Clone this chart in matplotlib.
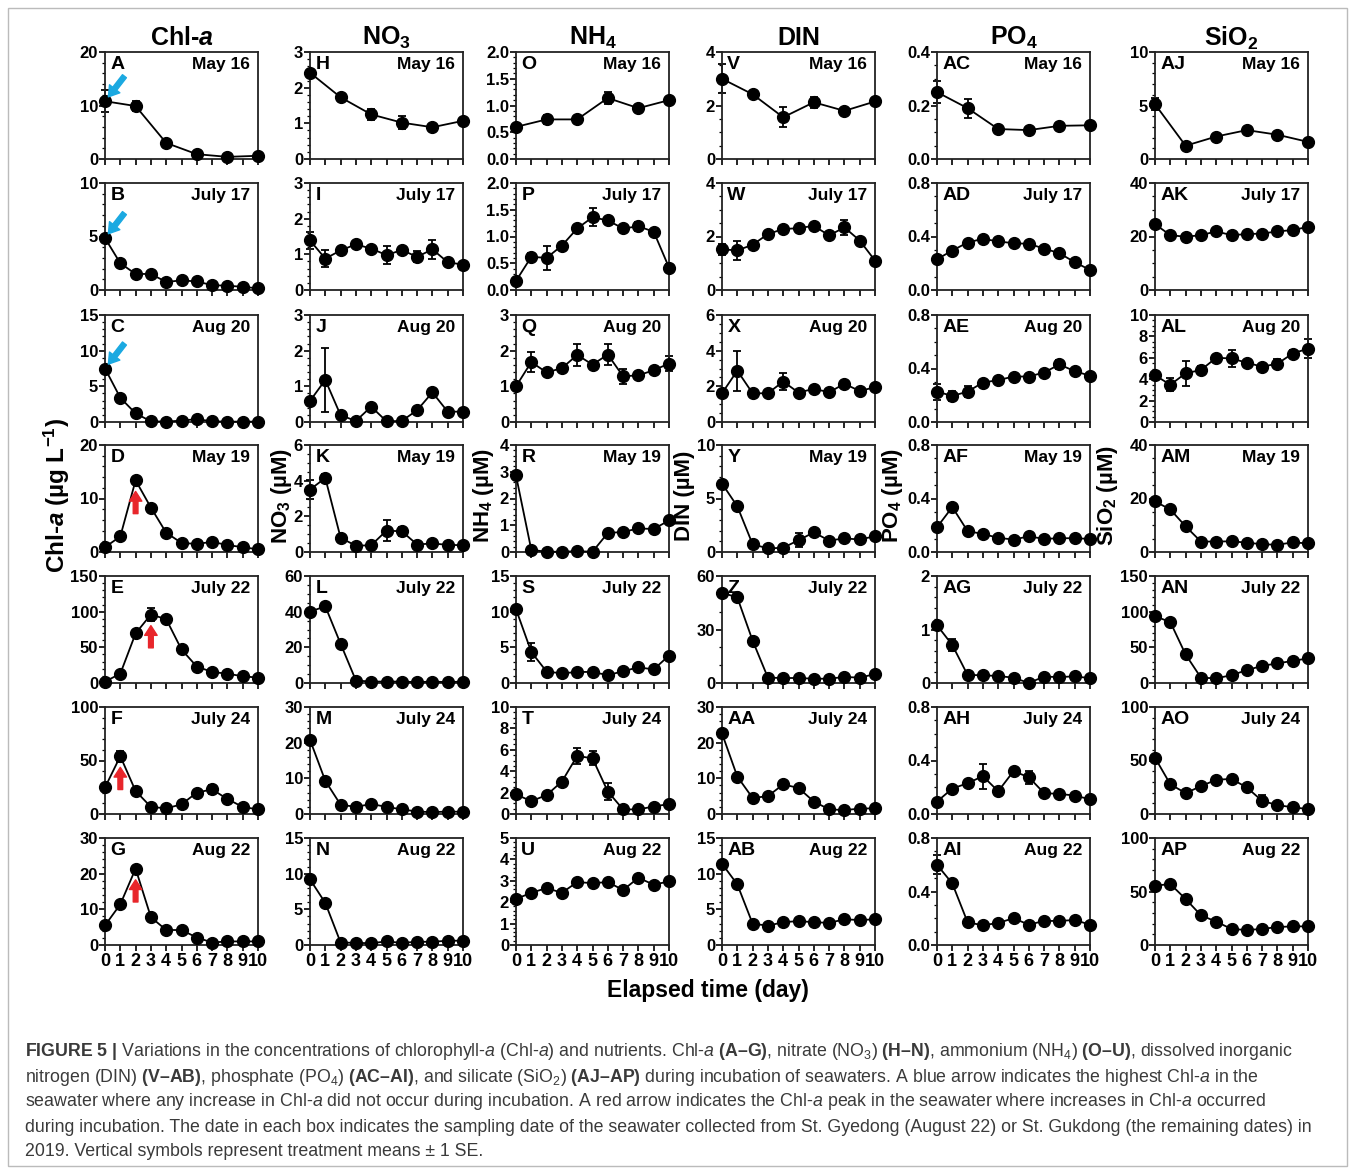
import matplotlib
matplotlib.use('Agg')
import matplotlib.pyplot as plt
from matplotlib.ticker import MultipleLocator, AutoMinorLocator, FormatStrFormatter
from matplotlib.patches import Rectangle

plt.rcParams['font.family'] = ['Liberation Sans', 'DejaVu Sans']
plt.rcParams['mathtext.fontset'] = 'custom'
plt.rcParams['mathtext.rm'] = 'Liberation Sans'
plt.rcParams['mathtext.it'] = 'Liberation Sans:italic'
plt.rcParams['mathtext.bf'] = 'Liberation Sans:bold'
plt.rcParams['mathtext.bfit'] = 'Liberation Sans:italic:bold'

days6 = [0, 2, 4, 6, 8, 10]
days11 = [0, 1, 2, 3, 4, 5, 6, 7, 8, 9, 10]
dates = ['May 16', 'July 17', 'Aug 20', 'May 19', 'July 22', 'July 24', 'Aug 22']

# Chl-a
A = [10.8, 9.9, 3.0, 0.9, 0.4, 0.6]
A_se = [2.1, 0.9, 0, 0, 0, 0]
B = [4.85, 2.5, 1.5, 1.5, 0.75, 0.9, 0.8, 0.45, 0.4, 0.3, 0.15]
B_se = [0] * 11
C = [7.5, 3.4, 1.2, 0.1, 0.05, 0.2, 0.4, 0.1, 0.05, 0.05, 0.05]
C_se = [0] * 11
D = [0.9, 2.9, 13.4, 8.3, 3.6, 1.7, 1.5, 1.9, 1.3, 0.9, 0.5]
D_se = [0] * 11
E = [2, 13, 69.5, 96, 89.5, 47, 23, 15.5, 13, 9.5, 7.5]
E_se = [0, 0, 4, 9, 0, 0, 0, 0, 0, 0, 0]
F = [24.8, 54, 21.5, 6.6, 5.3, 9, 20, 23, 14, 6.6, 4.3]
F_se = [0, 5, 0, 0, 0, 0, 0, 4, 0, 0, 0]
G = [5.5, 11.4, 21.4, 7.8, 4.2, 4.2, 2.1, 0.7, 1.0, 1.0, 1.0]
G_se = [0] * 11

# NO3
H = [2.42, 1.73, 1.25, 1.02, 0.89, 1.07]
H_se = [0, 0.06, 0.16, 0.18, 0, 0]
I = [1.39, 0.88, 1.11, 1.28, 1.16, 0.98, 1.12, 0.93, 1.14, 0.78, 0.71]
I_se = [0.25, 0.23, 0, 0, 0, 0.25, 0, 0.15, 0.26, 0, 0]
J = [0.59, 1.18, 0.19, 0.03, 0.43, 0.02, 0.03, 0.33, 0.83, 0.29, 0.29]
J_se = [0, 0.9, 0, 0, 0.08, 0, 0, 0, 0, 0, 0]
K = [3.5, 4.15, 0.8, 0.35, 0.38, 1.2, 1.16, 0.42, 0.48, 0.4, 0.38]
K_se = [0.55, 0.25, 0, 0, 0, 0.57, 0.25, 0, 0, 0, 0]
L = [40, 43, 22, 1.4, 0.8, 0.8, 0.8, 0.5, 0.8, 0.5, 0.8]
L_se = [0] * 11
M = [20.8, 9.3, 2.6, 2.0, 2.8, 2.0, 1.3, 0.7, 0.5, 0.7, 0.6]
M_se = [0] * 11
N = [9.2, 5.9, 0.35, 0.3, 0.25, 0.5, 0.3, 0.45, 0.45, 0.6, 0.6]
N_se = [0] * 11

# NH4
O = [0.6, 0.74, 0.74, 1.14, 0.95, 1.1]
O_se = [0, 0.08, 0, 0.12, 0.03, 0]
P = [0.17, 0.62, 0.6, 0.83, 1.15, 1.36, 1.3, 1.15, 1.19, 1.09, 0.42]
P_se = [0, 0.07, 0.23, 0, 0, 0.17, 0.06, 0, 0.08, 0, 0.07]
Q = [1.0, 1.68, 1.39, 1.51, 1.88, 1.61, 1.89, 1.28, 1.31, 1.45, 1.64]
Q_se = [0, 0.27, 0.06, 0.08, 0.32, 0, 0.3, 0.21, 0, 0, 0.21]
R = [2.86, 0.08, 0.01, 0.01, 0.03, 0.01, 0.71, 0.75, 0.88, 0.86, 1.18]
R_se = [0] * 11
S = [10.35, 4.35, 1.6, 1.35, 1.55, 1.55, 1.1, 1.65, 2.2, 1.9, 3.85]
S_se = [0, 1.3, 0, 0, 0, 0, 0, 0, 0, 0, 0]
T = [1.83, 1.2, 1.77, 3.03, 5.43, 5.2, 2.1, 0.43, 0.43, 0.7, 0.93]
T_se = [0, 0, 0, 0.2, 0.75, 0.65, 0.8, 0, 0, 0, 0]
U = [2.15, 2.44, 2.66, 2.44, 2.94, 2.89, 2.94, 2.57, 3.14, 2.82, 2.97]
U_se = [0] * 11

# DIN
V = [3.0, 2.42, 1.56, 2.12, 1.8, 2.15]
V_se = [0.55, 0.08, 0.37, 0.2, 0, 0]
W_ = [1.52, 1.48, 1.69, 2.09, 2.28, 2.31, 2.4, 2.04, 2.34, 1.85, 1.1]
W_se = [0.2, 0.36, 0, 0, 0, 0.08, 0, 0, 0.28, 0, 0]
X = [1.61, 2.88, 1.61, 1.61, 2.27, 1.65, 1.86, 1.67, 2.14, 1.74, 1.95]
X_se = [0, 1.12, 0, 0, 0.45, 0, 0, 0, 0, 0, 0]
Y = [6.4, 4.27, 0.73, 0.33, 0.4, 1.1, 1.83, 1.07, 1.27, 1.17, 1.47]
Y_se = [0, 0, 0, 0, 0, 0.65, 0, 0, 0, 0, 0]
Z = [50.6, 48, 23.8, 3, 2.8, 2.8, 2.4, 2.4, 3.4, 3, 5]
Z_se = [0] * 11
AA = [22.6, 10.5, 4.5, 5, 8.3, 7.3, 3.5, 1.3, 1.1, 1.5, 1.6]
AA_se = [0] * 11
AB = [11.4, 8.5, 3.0, 2.7, 3.2, 3.35, 3.2, 3.1, 3.6, 3.5, 3.6]
AB_se = [0.3, 0, 0, 0, 0, 0, 0, 0, 0, 0, 0]

# PO4
AC = [0.25, 0.19, 0.112, 0.108, 0.124, 0.126]
AC_se = [0.04, 0.036, 0, 0, 0, 0]
AD = [0.23, 0.295, 0.355, 0.383, 0.363, 0.35, 0.345, 0.31, 0.275, 0.208, 0.15]
AD_se = [0] * 11
AE = [0.227, 0.195, 0.227, 0.295, 0.313, 0.34, 0.34, 0.37, 0.43, 0.38, 0.346]
AE_se = [0.06, 0.035, 0.04, 0, 0, 0, 0, 0, 0.03, 0, 0]
AF = [0.185, 0.336, 0.156, 0.135, 0.106, 0.093, 0.117, 0.098, 0.103, 0.103, 0.098]
AF_se = [0] * 11
AG = [1.08, 0.71, 0.15, 0.145, 0.13, 0.1, 0.0, 0.12, 0.11, 0.125, 0.09]
AG_se = [0, 0.12, 0, 0, 0, 0, 0, 0, 0, 0, 0]
AH = [0.093, 0.19, 0.23, 0.283, 0.17, 0.32, 0.275, 0.156, 0.15, 0.138, 0.11]
AH_se = [0, 0, 0, 0.093, 0, 0.02, 0.05, 0, 0, 0, 0]
AI = [0.6, 0.46, 0.17, 0.147, 0.165, 0.2, 0.152, 0.18, 0.18, 0.187, 0.152]
AI_se = [0.07, 0.03, 0, 0, 0, 0, 0, 0, 0, 0, 0]

# SiO2
AJ = [5.12, 1.24, 2.1, 2.7, 2.27, 1.6]
AJ_se = [0.55, 0, 0, 0, 0, 0]
AK = [24.6, 20.5, 19.9, 20.5, 21.9, 20.5, 20.9, 21.1, 21.9, 22.4, 23.6]
AK_se = [0] * 11
AL = [4.37, 3.48, 4.55, 4.86, 6.0, 5.94, 5.54, 5.17, 5.45, 6.4, 6.86]
AL_se = [0, 0.6, 1.15, 0.4, 0, 0.77, 0.2, 0, 0.4, 0.35, 0.9]
AM = [18.9, 15.9, 9.6, 3.9, 3.9, 4.0, 3.5, 2.9, 2.7, 3.6, 3.2]
AM_se = [0] * 11
AN = [93.5, 85.5, 40, 7.5, 6.5, 11, 18, 24, 27.5, 31, 34.5]
AN_se = [0] * 11
AO = [52.6, 27.8, 19.5, 26, 32, 32.8, 24.8, 12.3, 8.3, 6.3, 4.6]
AO_se = [0, 0, 0, 0, 0, 0, 0, 5, 0, 0, 0]
AP = [55.4, 57, 43, 27.8, 21.8, 15, 14, 15, 16.8, 17.4, 17.4]
AP_se = [0] * 11

# panels per column (letter, values, se)
col_panels = [
    [('A', A, A_se), ('B', B, B_se), ('C', C, C_se), ('D', D, D_se),
     ('E', E, E_se), ('F', F, F_se), ('G', G, G_se)],
    [('H', H, H_se), ('I', I, I_se), ('J', J, J_se), ('K', K, K_se),
     ('L', L, L_se), ('M', M, M_se), ('N', N, N_se)],
    [('O', O, O_se), ('P', P, P_se), ('Q', Q, Q_se), ('R', R, R_se),
     ('S', S, S_se), ('T', T, T_se), ('U', U, U_se)],
    [('V', V, V_se), ('W', W_, W_se), ('X', X, X_se), ('Y', Y, Y_se),
     ('Z', Z, Z_se), ('AA', AA, AA_se), ('AB', AB, AB_se)],
    [('AC', AC, AC_se), ('AD', AD, AD_se), ('AE', AE, AE_se), ('AF', AF, AF_se),
     ('AG', AG, AG_se), ('AH', AH, AH_se), ('AI', AI, AI_se)],
    [('AJ', AJ, AJ_se), ('AK', AK, AK_se), ('AL', AL, AL_se), ('AM', AM, AM_se),
     ('AN', AN, AN_se), ('AO', AO, AO_se), ('AP', AP, AP_se)],
]

# y axis top and major step per panel
col_yaxis = [
    [(20, 10), (10, 5), (15, 5), (20, 10), (150, 50), (100, 50), (30, 10)],
    [(3, 1), (3, 1), (3, 1), (6, 2), (60, 20), (30, 10), (15, 5)],
    [(2, 0.5), (2, 0.5), (3, 1), (4, 1), (15, 5), (10, 2), (5, 1)],
    [(4, 2), (4, 2), (6, 2), (10, 5), (60, 30), (30, 10), (15, 5)],
    [(0.4, 0.2), (0.8, 0.4), (0.8, 0.4), (0.8, 0.4), (2, 1), (0.8, 0.4), (0.8, 0.4)],
    [(10, 5), (40, 20), (10, 2), (40, 20), (150, 50), (100, 50), (100, 50)],
]

col_titles = [r'Chl-$\mathbfit{a}$', r'NO$_\mathbf{3}$', r'NH$_\mathbf{4}$', 'DIN',
              r'PO$_\mathbf{4}$', r'SiO$_\mathbf{2}$']
col_ylabels = [r'Chl-$\mathbfit{a}$ (µg L$^{\mathbf{-1}}$)', r'NO$_\mathbf{3}$ (µM)',
               r'NH$_\mathbf{4}$ (µM)', r'DIN (µM)', r'PO$_\mathbf{4}$ (µM)',
               r'SiO$_\mathbf{2}$ (µM)']

blue_arrows = {'A': 0, 'B': 0, 'C': 0}
red_arrows = {'D': 2, 'E': 3, 'F': 1, 'G': 2}

FW, FH = 1355, 1170
col_left = [105, 310, 516, 722, 937, 1155]
row_top = [52, 183, 315, 445, 576, 707, 838]
ax_w, ax_h = 153, 107
ylabel_x = [57, 282, 484, 684, 893, 1108]

fig = plt.figure(figsize=(13.55, 11.7), dpi=100)

minor_n = {10: 5, 5: 5, 50: 5, 1: 5, 0.5: 5, 2: 4, 20: 4, 30: 3, 0.4: 4, 0.2: 4}
arrow_style = 'simple,head_width=0.9,head_length=0.7,tail_width=0.34'

for c in range(6):
    for r in range(7):
        letter, vals, se = col_panels[c][r]
        top, step = col_yaxis[c][r]
        x = days6 if len(vals) == 6 else days11
        ax = fig.add_axes([col_left[c] / FW, 1 - (row_top[r] + ax_h) / FH,
                           ax_w / FW, ax_h / FH])
        ex = [xi for xi, e in zip(x, se) if e > 0]
        ey = [v for v, e in zip(vals, se) if e > 0]
        ee = [e for e in se if e > 0]
        if ee:
            eb = ax.errorbar(ex, ey, yerr=ee, fmt='none', ecolor='black',
                             elinewidth=1.3, capsize=3.2, capthick=1.3, zorder=2)
            for art in list(eb.lines[1]) + list(eb.lines[2]):
                art.set_clip_on(False)
        ax.plot(x, vals, '-o', color='black', lw=1.3, ms=8.5, zorder=3,
                clip_on=False)
        ax.set_xlim(0, 10)
        ax.set_ylim(0, top)
        ax.xaxis.set_major_locator(MultipleLocator(1))
        ax.yaxis.set_major_locator(MultipleLocator(step))
        ax.yaxis.set_minor_locator(AutoMinorLocator(minor_n[step]))
        ax.yaxis.set_major_formatter(FormatStrFormatter('%.1f' if step < 1 else '%d'))
        ax.tick_params(axis='both', which='major', direction='out', length=4,
                       width=1.2, labelsize=12, pad=1)
        ax.tick_params(axis='x', labelsize=13)
        ax.tick_params(axis='y', which='minor', direction='out', length=2.2, width=0.9)
        ax.tick_params(axis='x', labelbottom=(r == 6), pad=2)
        for lab in ax.get_xticklabels() + ax.get_yticklabels():
            lab.set_fontweight('bold')
        for sp in ax.spines.values():
            sp.set_linewidth(1.3)
            sp.set_color('#222222')
        ax.text(0.035, 0.96, letter, transform=ax.transAxes, ha='left', va='top',
                fontsize=14, fontweight='bold')
        ax.text(0.95, 0.955, dates[r], transform=ax.transAxes, ha='right', va='top',
                fontsize=12.5, fontweight='bold')
        if letter in blue_arrows:
            xi = blue_arrows[letter]
            ax.annotate('', xy=(xi, vals[x.index(xi)]), xytext=(14, 18),
                        textcoords='offset points',
                        arrowprops=dict(arrowstyle=arrow_style, color='#1ba9e1',
                                        shrinkA=0, shrinkB=4, mutation_scale=10.5),
                        annotation_clip=False)
        if letter in red_arrows:
            xi = red_arrows[letter]
            ax.annotate('', xy=(xi, vals[x.index(xi)]), xytext=(0, -24),
                        textcoords='offset points',
                        arrowprops=dict(arrowstyle=arrow_style, color='#e8262b',
                                        shrinkA=0, shrinkB=8, mutation_scale=10))
    fig.text((col_left[c] + ax_w / 2) / FW, 1 - 38 / FH, col_titles[c],
             ha='center', va='center', fontsize=18, fontweight='bold')
    fig.text(ylabel_x[c] / FW, 1 - 496 / FH, col_ylabels[c], rotation=90,
             ha='center', va='center', fontsize=17.5 if c == 0 else 16,
             fontweight='bold')

fig.text(708 / FW, 1 - 991 / FH, 'Elapsed time (day)', ha='center', va='center',
         fontsize=16.5, fontweight='bold')


def bf(s):
    return r'$\mathbf{' + s.replace(' ', r'\ ') + '}$'


ita = r'$\mathit{a}$'
cap_lines = [
    bf('FIGURE 5 |') + ' Variations in the concentrations of chlorophyll-' + ita
    + ' (Chl-' + ita + ') and nutrients. Chl-' + ita + ' ' + bf('(A–G)')
    + ', nitrate (NO$_3$) ' + bf('(H–N)') + ', ammonium (NH$_4$) ' + bf('(O–U)')
    + ', dissolved inorganic',
    'nitrogen (DIN) ' + bf('(V–AB)') + ', phosphate (PO$_4$) ' + bf('(AC–AI)')
    + ', and silicate (SiO$_2$) ' + bf('(AJ–AP)')
    + ' during incubation of seawaters. A blue arrow indicates the highest Chl-' + ita + ' in the',
    'seawater where any increase in Chl-' + ita + ' did not occur during incubation. '
    'A red arrow indicates the Chl-' + ita + ' peak in the seawater where increases in Chl-'
    + ita + ' occurred',
    'during incubation. The date in each box indicates the sampling date of the seawater '
    'collected from St. Gyedong (August 22) or St. Gukdong (the remaining dates) in',
    '2019. Vertical symbols represent treatment means ± 1 SE.',
]
for i, line in enumerate(cap_lines):
    fig.text(25 / FW, 1 - (1052 + 25 * i) / FH, line, ha='left', va='center',
             fontsize=12.8, color='#3a3a3a', fontweight='normal')

fig.patches.append(Rectangle((8 / FW, 4 / FH), 1 - 16 / FW, 1 - 12 / FH,
                             transform=fig.transFigure, fill=False,
                             edgecolor='#bbbbbb', lw=1))

fig.savefig('out.png', dpi=100)
